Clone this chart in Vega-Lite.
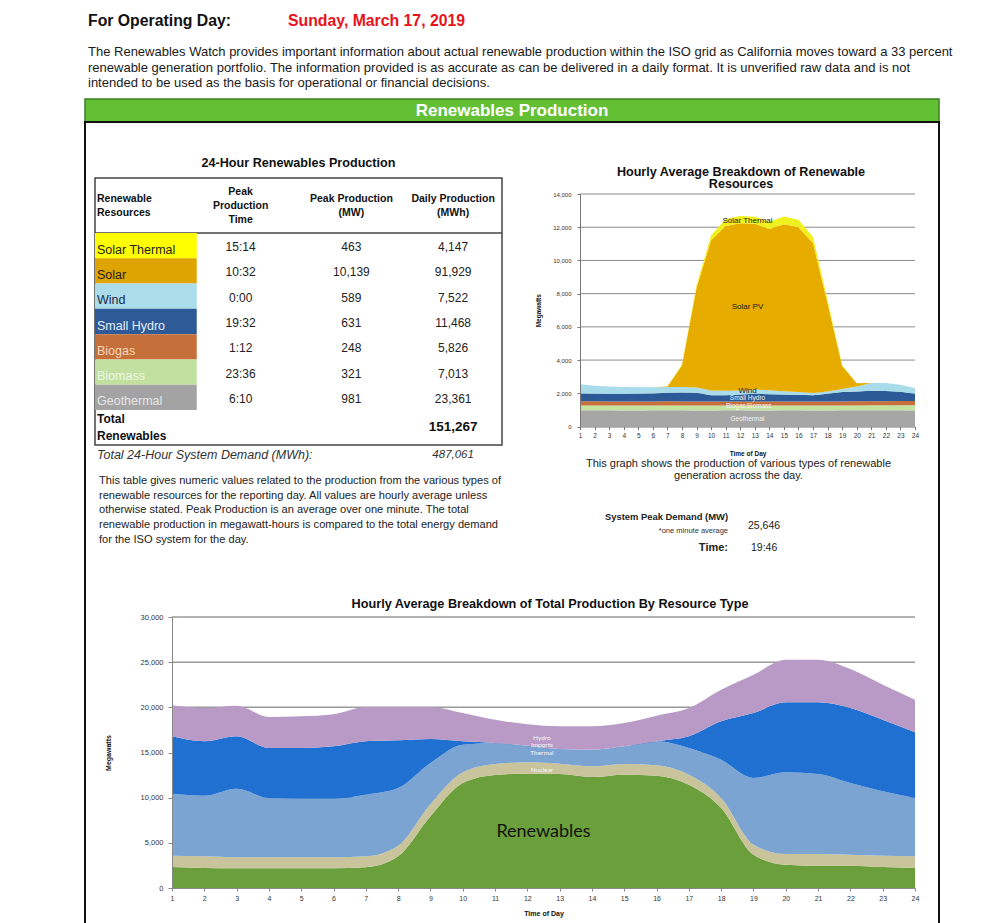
{
  "$schema": "https://vega.github.io/schema/vega-lite/v6.json",
  "width": 1000,
  "height": 923,
  "padding": 0,
  "autosize": {"type": "none"},
  "background": "white",
  "config": {"view": {"stroke": null}, "font": "Liberation Sans"},
  "resolve": {"scale": {"x": "independent", "y": "independent", "color": "independent"}},
  "layer": [
    {
      "data": {"values": [{"k": "label", "t": "For Operating Day:"}, {"k": "date", "t": "Sunday, March 17, 2019"}]},
      "mark": {"type": "text", "align": "left", "baseline": "middle", "fontSize": 15.8, "fontWeight": "bold"},
      "encoding": {
        "x": {"field": "k", "type": "nominal", "scale": {"type": "point", "domain": ["label", "date"], "range": [88, 288], "padding": 0}, "axis": null},
        "y": {"datum": 0, "type": "quantitative", "scale": {"domain": [0, 1], "range": [21, 40], "nice": false, "zero": false}, "axis": null},
        "color": {"field": "k", "type": "nominal", "scale": {"domain": ["label", "date"], "range": ["#111111", "#e8121b"]}, "legend": null},
        "text": {"field": "t"}
      }
    },
    {
      "data": {"values": [
        {"l": 0, "t": "The Renewables Watch provides important information about actual renewable production within the ISO grid as California moves toward a 33 percent"},
        {"l": 1, "t": "renewable generation portfolio. The information provided is as accurate as can be delivered in a daily format.  It is unverified raw data and is not"},
        {"l": 2, "t": "intended to be used as the basis for operational or financial decisions."}
      ]},
      "mark": {"type": "text", "align": "left", "baseline": "middle", "fontSize": 13, "color": "#1a1a1a"},
      "encoding": {
        "x": {"datum": 0, "type": "quantitative", "scale": {"domain": [0, 1], "range": [88, 952], "nice": false, "zero": false}, "axis": null},
        "y": {"field": "l", "type": "quantitative", "scale": {"domain": [0, 2], "range": [52, 83], "nice": false, "zero": false}, "axis": null},
        "text": {"field": "t"}
      }
    },
    {
      "data": {"values": [{"t": "Renewables Production"}]},
      "layer": [
        {
          "mark": {"type": "rect", "fill": "#63bf33", "stroke": "#3d7d24", "strokeWidth": 1.5},
          "encoding": {
            "x": {"datum": 0, "type": "quantitative", "scale": {"domain": [0, 1], "range": [85, 939], "nice": false, "zero": false}, "axis": null},
            "x2": {"datum": 1},
            "y": {"datum": 0, "type": "quantitative", "scale": {"domain": [0, 1], "range": [99, 122], "nice": false, "zero": false}, "axis": null},
            "y2": {"datum": 1}
          }
        },
        {
          "mark": {"type": "text", "align": "center", "baseline": "middle", "fontSize": 17, "fontWeight": "bold", "color": "white"},
          "encoding": {
            "x": {"datum": 0.5, "type": "quantitative", "axis": null},
            "y": {"datum": 0.5, "type": "quantitative", "axis": null},
            "text": {"field": "t"}
          }
        }
      ]
    },
    {
      "data": {"values": [{}]},
      "mark": {"type": "rect", "filled": false, "stroke": "#111111", "strokeWidth": 2},
      "encoding": {
        "x": {"datum": 0, "type": "quantitative", "scale": {"domain": [0, 1], "range": [85, 939], "nice": false, "zero": false}, "axis": null},
        "x2": {"datum": 1},
        "y": {"datum": 0, "type": "quantitative", "scale": {"domain": [0, 1], "range": [122, 1000], "nice": false, "zero": false}, "axis": null},
        "y2": {"datum": 1}
      }
    },
    {
      "data": {"values": [{"t": "24-Hour Renewables Production"}]},
      "mark": {"type": "text", "align": "center", "baseline": "middle", "fontSize": 12.6, "fontWeight": "bold", "color": "#111111"},
      "encoding": {
        "x": {"datum": 0.5, "type": "quantitative", "scale": {"domain": [0, 1], "range": [95, 502], "nice": false, "zero": false}, "axis": null},
        "y": {"datum": 0, "type": "quantitative", "scale": {"domain": [0, 1], "range": [163, 200], "nice": false, "zero": false}, "axis": null},
        "text": {"field": "t"}
      }
    },
    {
      "data": {"values": [{}]},
      "layer": [
        {
          "mark": {"type": "rect", "filled": false, "stroke": "#444444", "strokeWidth": 1.5},
          "encoding": {
            "x": {"datum": 0, "type": "quantitative", "scale": {"domain": [0, 1], "range": [95, 502], "nice": false, "zero": false}, "axis": null},
            "x2": {"datum": 1},
            "y": {"datum": 0, "type": "quantitative", "scale": {"domain": [0, 1], "range": [178, 445], "nice": false, "zero": false}, "axis": null},
            "y2": {"datum": 1}
          }
        },
        {
          "mark": {"type": "rule", "stroke": "#444444", "strokeWidth": 1.5},
          "encoding": {
            "x": {"datum": 0, "type": "quantitative", "axis": null},
            "x2": {"datum": 1},
            "y": {"datum": 0.206, "type": "quantitative", "axis": null}
          }
        }
      ]
    },
    {
      "layer": [
        {
          "data": {"values": [{"t": "Renewable\nResources"}]},
          "mark": {"type": "text", "align": "left", "baseline": "middle", "dx": 2, "dy": -6.75, "fontSize": 10.5, "fontWeight": "bold", "lineBreak": "\n", "lineHeight": 13.5, "color": "#111111"},
          "encoding": {
            "x": {"datum": "name", "type": "nominal", "bandPosition": 0, "scale": {"type": "band", "domain": ["name", "time", "peak", "daily"], "range": [95, 502], "paddingInner": 0, "paddingOuter": 0}, "axis": null},
            "y": {"datum": 0, "type": "quantitative", "scale": {"domain": [0, 1], "range": [206, 300], "nice": false, "zero": false}, "axis": null},
            "text": {"field": "t"}
          }
        },
        {
          "data": {"values": [{"t": "Peak\nProduction\nTime"}]},
          "mark": {"type": "text", "align": "center", "baseline": "middle", "dx": -7, "dy": -14, "fontSize": 10.5, "fontWeight": "bold", "lineBreak": "\n", "lineHeight": 14, "color": "#111111"},
          "encoding": {
            "x": {"datum": "time", "type": "nominal", "bandPosition": 0.5, "axis": null},
            "y": {"datum": 0, "type": "quantitative", "axis": null},
            "text": {"field": "t"}
          }
        },
        {
          "data": {"values": [{"t": "Peak Production\n(MW)"}]},
          "mark": {"type": "text", "align": "center", "baseline": "middle", "dx": 2, "dy": -6.75, "fontSize": 10.5, "fontWeight": "bold", "lineBreak": "\n", "lineHeight": 13.5, "color": "#111111"},
          "encoding": {
            "x": {"datum": "peak", "type": "nominal", "bandPosition": 0.5, "axis": null},
            "y": {"datum": 0, "type": "quantitative", "axis": null},
            "text": {"field": "t"}
          }
        },
        {
          "data": {"values": [{"t": "Daily Production\n(MWh)"}]},
          "mark": {"type": "text", "align": "center", "baseline": "middle", "dx": 2, "dy": -6.75, "fontSize": 10.5, "fontWeight": "bold", "lineBreak": "\n", "lineHeight": 13.5, "color": "#111111"},
          "encoding": {
            "x": {"datum": "daily", "type": "nominal", "bandPosition": 0.5, "axis": null},
            "y": {"datum": 0, "type": "quantitative", "axis": null},
            "text": {"field": "t"}
          }
        }
      ]
    },
    {
      "data": {"values": [
        {"res": "Solar Thermal", "time": "15:14", "peak": "463", "daily": "4,147"},
        {"res": "Solar", "time": "10:32", "peak": "10,139", "daily": "91,929"},
        {"res": "Wind", "time": "0:00", "peak": "589", "daily": "7,522"},
        {"res": "Small Hydro", "time": "19:32", "peak": "631", "daily": "11,468"},
        {"res": "Biogas", "time": "1:12", "peak": "248", "daily": "5,826"},
        {"res": "Biomass", "time": "23:36", "peak": "321", "daily": "7,013"},
        {"res": "Geothermal", "time": "6:10", "peak": "981", "daily": "23,361"}
      ]},
      "resolve": {"scale": {"color": "independent"}},
      "layer": [
        {
          "mark": {"type": "rect"},
          "encoding": {
            "x": {"datum": "name", "type": "nominal", "scale": {"type": "band", "domain": ["name", "time", "peak", "daily"], "range": [95, 502], "paddingInner": 0, "paddingOuter": 0}, "axis": null},
            "y": {"field": "res", "type": "nominal", "scale": {"type": "band", "domain": ["Solar Thermal", "Solar", "Wind", "Small Hydro", "Biogas", "Biomass", "Geothermal"], "range": [233, 410], "paddingInner": 0, "paddingOuter": 0}, "axis": null},
            "color": {"field": "res", "type": "nominal", "scale": {"domain": ["Solar Thermal", "Solar", "Wind", "Small Hydro", "Biogas", "Biomass", "Geothermal"], "range": ["#ffff00", "#dea400", "#aadcea", "#2e5b98", "#c5703b", "#c2e0a0", "#a3a3a3"]}, "legend": null}
          }
        },
        {
          "mark": {"type": "text", "align": "left", "baseline": "middle", "dx": 2, "dy": 4, "fontSize": 12.5},
          "encoding": {
            "x": {"datum": "name", "type": "nominal", "bandPosition": 0, "axis": null},
            "y": {"field": "res", "type": "nominal", "axis": null},
            "color": {"field": "res", "type": "nominal", "scale": {"domain": ["Solar Thermal", "Solar", "Wind", "Small Hydro", "Biogas", "Biomass", "Geothermal"], "range": ["#222222", "#222222", "#1d2d4d", "#e6ecf6", "#f8d6bc", "#eef6e4", "#e6e6e6"]}, "legend": null},
            "text": {"field": "res"}
          }
        },
        {
          "mark": {"type": "text", "align": "center", "baseline": "middle", "dx": -7, "dy": 1.5, "fontSize": 12, "color": "#222222"},
          "encoding": {
            "x": {"datum": "time", "type": "nominal", "bandPosition": 0.5, "axis": null},
            "y": {"field": "res", "type": "nominal", "axis": null},
            "text": {"field": "time"}
          }
        },
        {
          "mark": {"type": "text", "align": "center", "baseline": "middle", "dx": 2, "dy": 1.5, "fontSize": 12, "color": "#222222"},
          "encoding": {
            "x": {"datum": "peak", "type": "nominal", "bandPosition": 0.5, "axis": null},
            "y": {"field": "res", "type": "nominal", "axis": null},
            "text": {"field": "peak"}
          }
        },
        {
          "mark": {"type": "text", "align": "center", "baseline": "middle", "dx": 2, "dy": 1.5, "fontSize": 12, "color": "#222222"},
          "encoding": {
            "x": {"datum": "daily", "type": "nominal", "bandPosition": 0.5, "axis": null},
            "y": {"field": "res", "type": "nominal", "axis": null},
            "text": {"field": "daily"}
          }
        }
      ]
    },
    {
      "layer": [
        {
          "data": {"values": [{"t": "Total\nRenewables"}]},
          "mark": {"type": "text", "align": "left", "baseline": "middle", "dx": 2, "dy": -8, "fontSize": 12, "fontWeight": "bold", "lineBreak": "\n", "lineHeight": 16.5, "color": "#111111"},
          "encoding": {
            "x": {"datum": "name", "type": "nominal", "bandPosition": 0, "scale": {"type": "band", "domain": ["name", "time", "peak", "daily"], "range": [95, 502], "paddingInner": 0, "paddingOuter": 0}, "axis": null},
            "y": {"datum": "total", "type": "nominal", "scale": {"type": "point", "domain": ["total", "demand"], "range": [427, 455], "padding": 0}, "axis": null},
            "text": {"field": "t"}
          }
        },
        {
          "data": {"values": [{"t": "151,267"}]},
          "mark": {"type": "text", "align": "center", "baseline": "middle", "dx": 2, "fontSize": 13.5, "fontWeight": "bold", "color": "#111111"},
          "encoding": {
            "x": {"datum": "daily", "type": "nominal", "bandPosition": 0.5, "axis": null},
            "y": {"datum": "total", "type": "nominal", "axis": null},
            "text": {"field": "t"}
          }
        },
        {
          "data": {"values": [{"t": "Total 24-Hour System Demand (MWh):"}]},
          "mark": {"type": "text", "align": "left", "baseline": "middle", "dx": 2, "fontSize": 12.5, "fontStyle": "italic", "color": "#333333"},
          "encoding": {
            "x": {"datum": "name", "type": "nominal", "bandPosition": 0, "axis": null},
            "y": {"datum": "demand", "type": "nominal", "axis": null},
            "text": {"field": "t"}
          }
        },
        {
          "data": {"values": [{"t": "487,061"}]},
          "mark": {"type": "text", "align": "center", "baseline": "middle", "dx": 2, "fontSize": 11.5, "fontStyle": "italic", "color": "#333333"},
          "encoding": {
            "x": {"datum": "daily", "type": "nominal", "bandPosition": 0.5, "axis": null},
            "y": {"datum": "demand", "type": "nominal", "axis": null},
            "text": {"field": "t"}
          }
        }
      ]
    },
    {
      "data": {"values": [
        {"l": 0, "t": "This table gives numeric values related to the production from the various types of"},
        {"l": 1, "t": "renewable resources for the reporting day. All values are hourly average unless"},
        {"l": 2, "t": "otherwise stated. Peak Production is an average over one minute. The total"},
        {"l": 3, "t": "renewable production in megawatt-hours is compared to the total energy demand"},
        {"l": 4, "t": "for the ISO system for the day."}
      ]},
      "mark": {"type": "text", "align": "left", "baseline": "middle", "fontSize": 11.1, "color": "#222222"},
      "encoding": {
        "x": {"datum": 0, "type": "quantitative", "scale": {"domain": [0, 1], "range": [99, 505], "nice": false, "zero": false}, "axis": null},
        "y": {"field": "l", "type": "quantitative", "scale": {"domain": [0, 4], "range": [481, 539.5], "nice": false, "zero": false}, "axis": null},
        "text": {"field": "t"}
      }
    },
    {
      "data": {"values": [{"t": "Hourly Average Breakdown of Renewable\nResources"}]},
      "mark": {"type": "text", "align": "center", "baseline": "middle", "dy": -6.3, "fontSize": 12.6, "fontWeight": "bold", "lineBreak": "\n", "lineHeight": 12.6, "color": "#111111"},
      "encoding": {
        "x": {"datum": 0, "type": "quantitative", "scale": {"domain": [0, 1], "range": [741, 800], "nice": false, "zero": false}, "axis": null},
        "y": {"datum": 0, "type": "quantitative", "scale": {"domain": [0, 1], "range": [178, 200], "nice": false, "zero": false}, "axis": null},
        "text": {"field": "t"}
      }
    },
    {
      "layer": [
        {
          "data": {"values": [{"v": 2000}, {"v": 4000}, {"v": 6000}, {"v": 8000}, {"v": 10000}, {"v": 12000}, {"v": 14000}]},
          "mark": {"type": "rule", "stroke": "#8a8a8a", "strokeWidth": 1},
          "encoding": {
            "x": {"datum": 1, "type": "quantitative", "scale": {"type": "linear", "domain": [1, 24], "range": [580, 915], "nice": false, "zero": false}},
            "x2": {"datum": 24},
            "y": {"field": "v", "type": "quantitative", "scale": {"type": "linear", "domain": [0, 14000], "range": [426.5, 194], "nice": false, "zero": false}}
          }
        },
        {
          "data": {"values": [
            {"h": 1, "a_geo": 980, "b_bms": 292, "c_bgs": 246, "d_shy": 470, "e_wnd": 560, "f_spv": 0, "g_sth": 0},
            {"h": 2, "a_geo": 975, "b_bms": 292, "c_bgs": 246, "d_shy": 460, "e_wnd": 480, "f_spv": 0, "g_sth": 0},
            {"h": 3, "a_geo": 975, "b_bms": 292, "c_bgs": 245, "d_shy": 450, "e_wnd": 440, "f_spv": 0, "g_sth": 0},
            {"h": 4, "a_geo": 970, "b_bms": 292, "c_bgs": 245, "d_shy": 450, "e_wnd": 420, "f_spv": 0, "g_sth": 0},
            {"h": 5, "a_geo": 970, "b_bms": 290, "c_bgs": 245, "d_shy": 460, "e_wnd": 400, "f_spv": 0, "g_sth": 0},
            {"h": 6, "a_geo": 975, "b_bms": 290, "c_bgs": 245, "d_shy": 480, "e_wnd": 380, "f_spv": 0, "g_sth": 0},
            {"h": 7, "a_geo": 980, "b_bms": 290, "c_bgs": 245, "d_shy": 520, "e_wnd": 350, "f_spv": 30, "g_sth": 0},
            {"h": 8, "a_geo": 975, "b_bms": 290, "c_bgs": 244, "d_shy": 540, "e_wnd": 330, "f_spv": 1300, "g_sth": 50},
            {"h": 9, "a_geo": 970, "b_bms": 290, "c_bgs": 244, "d_shy": 530, "e_wnd": 320, "f_spv": 6000, "g_sth": 150},
            {"h": 10, "a_geo": 970, "b_bms": 290, "c_bgs": 244, "d_shy": 380, "e_wnd": 280, "f_spv": 9045, "g_sth": 300},
            {"h": 11, "a_geo": 975, "b_bms": 290, "c_bgs": 244, "d_shy": 380, "e_wnd": 260, "f_spv": 9930, "g_sth": 420},
            {"h": 12, "a_geo": 975, "b_bms": 290, "c_bgs": 244, "d_shy": 420, "e_wnd": 240, "f_spv": 10070, "g_sth": 440},
            {"h": 13, "a_geo": 970, "b_bms": 290, "c_bgs": 244, "d_shy": 470, "e_wnd": 260, "f_spv": 9970, "g_sth": 430},
            {"h": 14, "a_geo": 970, "b_bms": 290, "c_bgs": 244, "d_shy": 440, "e_wnd": 240, "f_spv": 9710, "g_sth": 440},
            {"h": 15, "a_geo": 975, "b_bms": 290, "c_bgs": 244, "d_shy": 420, "e_wnd": 200, "f_spv": 10050, "g_sth": 460},
            {"h": 16, "a_geo": 975, "b_bms": 290, "c_bgs": 244, "d_shy": 400, "e_wnd": 170, "f_spv": 9920, "g_sth": 450},
            {"h": 17, "a_geo": 970, "b_bms": 290, "c_bgs": 244, "d_shy": 380, "e_wnd": 140, "f_spv": 9005, "g_sth": 380},
            {"h": 18, "a_geo": 970, "b_bms": 290, "c_bgs": 244, "d_shy": 470, "e_wnd": 140, "f_spv": 5300, "g_sth": 200},
            {"h": 19, "a_geo": 975, "b_bms": 292, "c_bgs": 244, "d_shy": 560, "e_wnd": 180, "f_spv": 1390, "g_sth": 50},
            {"h": 20, "a_geo": 975, "b_bms": 295, "c_bgs": 244, "d_shy": 600, "e_wnd": 300, "f_spv": 190, "g_sth": 0},
            {"h": 21, "a_geo": 980, "b_bms": 300, "c_bgs": 244, "d_shy": 630, "e_wnd": 460, "f_spv": 0, "g_sth": 0},
            {"h": 22, "a_geo": 975, "b_bms": 305, "c_bgs": 244, "d_shy": 610, "e_wnd": 480, "f_spv": 0, "g_sth": 0},
            {"h": 23, "a_geo": 975, "b_bms": 310, "c_bgs": 244, "d_shy": 560, "e_wnd": 420, "f_spv": 0, "g_sth": 0},
            {"h": 24, "a_geo": 970, "b_bms": 320, "c_bgs": 244, "d_shy": 440, "e_wnd": 330, "f_spv": 0, "g_sth": 0}
          ]},
          "transform": [{"fold": ["a_geo", "b_bms", "c_bgs", "d_shy", "e_wnd", "f_spv", "g_sth"], "as": ["src", "mw"]}],
          "mark": {"type": "area", "interpolate": "linear"},
          "encoding": {
            "x": {"field": "h", "type": "quantitative", "axis": {"orient": "bottom", "offset": -496.5, "zindex": 1, "values": [1, 2, 3, 4, 5, 6, 7, 8, 9, 10, 11, 12, 13, 14, 15, 16, 17, 18, 19, 20, 21, 22, 23, 24], "format": "d", "grid": false, "labelFontSize": 6.5, "labelColor": "#333333", "labelPadding": 3, "labelFlush": false, "labelOverlap": false, "tickSize": 3, "tickColor": "#777777", "domainColor": "#777777", "title": "Time of Day", "titleFontSize": 6.5, "titleFontWeight": "bold", "titleColor": "#111111", "titlePadding": 11}},
            "y": {"field": "mw", "type": "quantitative", "stack": "zero", "axis": {"orient": "left", "offset": -580, "zindex": 1, "values": [0, 2000, 4000, 6000, 8000, 10000, 12000, 14000], "format": ",", "labelExpr": "format(datum.value, ',')", "grid": false, "labelFontSize": 6, "labelColor": "#333333", "labelPadding": 6, "tickSize": 3, "tickColor": "#777777", "domainColor": "#777777", "title": "Megawatts", "titleFontSize": 6.5, "titleFontWeight": "bold", "titleColor": "#111111", "titlePadding": 11}},
            "color": {"field": "src", "type": "nominal", "scale": {"domain": ["a_geo", "b_bms", "c_bgs", "d_shy", "e_wnd", "f_spv", "g_sth"], "range": ["#a6a6a6", "#c4e2a0", "#c8703a", "#2b5a97", "#a8dcea", "#e6ac00", "#f0f01e"]}, "legend": null},
            "order": {"field": "src", "sort": "ascending"}
          }
        },
        {
          "data": {"values": [
            {"h": 12.5, "v": 12380, "t": "Solar Thermal"},
            {"h": 12.5, "v": 7220, "t": "Solar PV"},
            {"h": 12.5, "v": 2120, "t": "Wind"}
          ]},
          "mark": {"type": "text", "align": "center", "baseline": "middle", "fontSize": 8, "color": "#1a1a1a"},
          "encoding": {
            "x": {"field": "h", "type": "quantitative"},
            "y": {"field": "v", "type": "quantitative"},
            "text": {"field": "t"}
          }
        },
        {
          "data": {"values": [
            {"h": 12.5, "v": 1720, "t": "Small Hydro"},
            {"h": 11.7, "v": 1250, "t": "Biogas"},
            {"h": 13.3, "v": 1250, "t": "Biomass"},
            {"h": 12.5, "v": 470, "t": "Geothermal"}
          ]},
          "mark": {"type": "text", "align": "center", "baseline": "middle", "fontSize": 6.5, "color": "#f4f4f4"},
          "encoding": {
            "x": {"field": "h", "type": "quantitative"},
            "y": {"field": "v", "type": "quantitative"},
            "text": {"field": "t"}
          }
        }
      ]
    },
    {
      "data": {"values": [{"t": "This graph shows the production of various types of renewable\ngeneration across the day."}]},
      "mark": {"type": "text", "align": "center", "baseline": "middle", "dy": -6, "fontSize": 11, "lineBreak": "\n", "lineHeight": 12, "color": "#222222"},
      "encoding": {
        "x": {"datum": 0, "type": "quantitative", "scale": {"domain": [0, 1], "range": [738.5, 800], "nice": false, "zero": false}, "axis": null},
        "y": {"datum": 0, "type": "quantitative", "scale": {"domain": [0, 1], "range": [470, 500], "nice": false, "zero": false}, "axis": null},
        "text": {"field": "t"}
      }
    },
    {
      "layer": [
        {
          "data": {"values": [{"t": "System Peak Demand (MW)"}]},
          "mark": {"type": "text", "align": "right", "baseline": "middle", "fontSize": 9.4, "fontWeight": "bold", "color": "#222222"},
          "encoding": {
            "x": {"datum": "lab", "type": "nominal", "scale": {"type": "point", "domain": ["lab", "val"], "range": [728, 748], "padding": 0}, "axis": null},
            "y": {"datum": "demand", "type": "nominal", "scale": {"type": "point", "domain": ["demand", "note", "time"], "range": [517, 548], "padding": 0}, "axis": null},
            "text": {"field": "t"}
          }
        },
        {
          "data": {"values": [{"t": "*one minute average"}]},
          "mark": {"type": "text", "align": "right", "baseline": "middle", "dy": -2, "fontSize": 7.5, "color": "#333333"},
          "encoding": {
            "x": {"datum": "lab", "type": "nominal", "axis": null},
            "y": {"datum": "note", "type": "nominal", "axis": null},
            "text": {"field": "t"}
          }
        },
        {
          "data": {"values": [{"t": "Time:"}]},
          "mark": {"type": "text", "align": "right", "baseline": "middle", "fontSize": 11, "fontWeight": "bold", "color": "#222222"},
          "encoding": {
            "x": {"datum": "lab", "type": "nominal", "axis": null},
            "y": {"datum": "time", "type": "nominal", "axis": null},
            "text": {"field": "t"}
          }
        },
        {
          "data": {"values": [{"t": "25,646"}]},
          "mark": {"type": "text", "align": "left", "baseline": "middle", "dy": 8.5, "fontSize": 10.5, "color": "#222222"},
          "encoding": {
            "x": {"datum": "val", "type": "nominal", "axis": null},
            "y": {"datum": "demand", "type": "nominal", "axis": null},
            "text": {"field": "t"}
          }
        },
        {
          "data": {"values": [{"t": "19:46"}]},
          "mark": {"type": "text", "align": "left", "baseline": "middle", "dx": 3, "fontSize": 10.5, "color": "#222222"},
          "encoding": {
            "x": {"datum": "val", "type": "nominal", "axis": null},
            "y": {"datum": "time", "type": "nominal", "axis": null},
            "text": {"field": "t"}
          }
        }
      ]
    },
    {
      "data": {"values": [{"t": "Hourly Average Breakdown of Total Production By Resource Type"}]},
      "mark": {"type": "text", "align": "center", "baseline": "middle", "fontSize": 12.7, "fontWeight": "bold", "color": "#111111"},
      "encoding": {
        "x": {"datum": 0, "type": "quantitative", "scale": {"domain": [0, 1], "range": [550, 800], "nice": false, "zero": false}, "axis": null},
        "y": {"datum": 0, "type": "quantitative", "scale": {"domain": [0, 1], "range": [604, 700], "nice": false, "zero": false}, "axis": null},
        "text": {"field": "t"}
      }
    },
    {
      "layer": [
        {
          "data": {"values": [{"v": 5000}, {"v": 10000}, {"v": 15000}, {"v": 20000}, {"v": 25000}, {"v": 30000}]},
          "mark": {"type": "rule", "stroke": "#9a9a9a", "strokeWidth": 1.5},
          "encoding": {
            "x": {"datum": 1, "type": "quantitative", "scale": {"type": "linear", "domain": [1, 24], "range": [172, 915], "nice": false, "zero": false}},
            "x2": {"datum": 24},
            "y": {"field": "v", "type": "quantitative", "scale": {"type": "linear", "domain": [0, 30000], "range": [888, 617], "nice": false, "zero": false}}
          }
        },
        {
          "data": {"values": [
            {"h": 1, "a_ren": 2325, "b_nuc": 1255, "c_thm": 6860, "d_imp": 6350, "e_hyd": 3430},
            {"h": 2, "a_ren": 2214, "b_nuc": 1291, "c_thm": 6715, "d_imp": 6020, "e_hyd": 3690},
            {"h": 3, "a_ren": 2177, "b_nuc": 1218, "c_thm": 7605, "d_imp": 5790, "e_hyd": 3390},
            {"h": 4, "a_ren": 2180, "b_nuc": 1215, "c_thm": 6565, "d_imp": 5540, "e_hyd": 3430},
            {"h": 5, "a_ren": 2180, "b_nuc": 1215, "c_thm": 6495, "d_imp": 5610, "e_hyd": 3500},
            {"h": 6, "a_ren": 2180, "b_nuc": 1215, "c_thm": 6495, "d_imp": 5790, "e_hyd": 3550},
            {"h": 7, "a_ren": 2290, "b_nuc": 1215, "c_thm": 6825, "d_imp": 5910, "e_hyd": 3800},
            {"h": 8, "a_ren": 3505, "b_nuc": 1181, "c_thm": 6384, "d_imp": 5280, "e_hyd": 3690},
            {"h": 9, "a_ren": 7930, "b_nuc": 1350, "c_thm": 4560, "d_imp": 2650, "e_hyd": 3550},
            {"h": 10, "a_ren": 11620, "b_nuc": 1180, "c_thm": 3070, "d_imp": 370, "e_hyd": 3130},
            {"h": 11, "a_ren": 12510, "b_nuc": 1220, "c_thm": 2320, "d_imp": 0, "e_hyd": 2580},
            {"h": 12, "a_ren": 12660, "b_nuc": 1250, "c_thm": 1850, "d_imp": 0, "e_hyd": 2360},
            {"h": 13, "a_ren": 12620, "b_nuc": 1140, "c_thm": 1630, "d_imp": 0, "e_hyd": 2510},
            {"h": 14, "a_ren": 12290, "b_nuc": 1180, "c_thm": 1840, "d_imp": 0, "e_hyd": 2590},
            {"h": 15, "a_ren": 12550, "b_nuc": 1180, "c_thm": 1950, "d_imp": 0, "e_hyd": 2590},
            {"h": 16, "a_ren": 12440, "b_nuc": 1140, "c_thm": 2660, "d_imp": 0, "e_hyd": 2840},
            {"h": 17, "a_ren": 11440, "b_nuc": 1110, "c_thm": 2950, "d_imp": 1290, "e_hyd": 3140},
            {"h": 18, "a_ren": 8860, "b_nuc": 1100, "c_thm": 4240, "d_imp": 4250, "e_hyd": 3510},
            {"h": 19, "a_ren": 3690, "b_nuc": 1110, "c_thm": 7380, "d_imp": 7190, "e_hyd": 4250},
            {"h": 20, "a_ren": 2580, "b_nuc": 1180, "c_thm": 9040, "d_imp": 7750, "e_hyd": 4730},
            {"h": 21, "a_ren": 2470, "b_nuc": 1290, "c_thm": 8860, "d_imp": 7930, "e_hyd": 4730},
            {"h": 22, "a_ren": 2470, "b_nuc": 1220, "c_thm": 7930, "d_imp": 8310, "e_hyd": 4310},
            {"h": 23, "a_ren": 2325, "b_nuc": 1255, "c_thm": 7120, "d_imp": 7930, "e_hyd": 3880},
            {"h": 24, "a_ren": 2214, "b_nuc": 1291, "c_thm": 6455, "d_imp": 7270, "e_hyd": 3620}
          ]},
          "transform": [{"fold": ["a_ren", "b_nuc", "c_thm", "d_imp", "e_hyd"], "as": ["src", "mw"]}],
          "mark": {"type": "area", "interpolate": "monotone"},
          "encoding": {
            "x": {"field": "h", "type": "quantitative", "axis": {"orient": "bottom", "offset": -35, "zindex": 1, "values": [1, 2, 3, 4, 5, 6, 7, 8, 9, 10, 11, 12, 13, 14, 15, 16, 17, 18, 19, 20, 21, 22, 23, 24], "format": "d", "grid": false, "labelFontSize": 7, "labelColor": "#333333", "labelPadding": 3, "labelFlush": false, "labelOverlap": false, "tickSize": 3, "tickColor": "#888888", "domainColor": "#888888", "title": "Time of Day", "titleFontSize": 7, "titleFontWeight": "bold", "titleColor": "#111111", "titlePadding": 8}},
            "y": {"field": "mw", "type": "quantitative", "stack": "zero", "axis": {"orient": "left", "offset": -172, "zindex": 1, "values": [0, 5000, 10000, 15000, 20000, 25000, 30000], "format": ",", "labelExpr": "format(datum.value, ',')", "grid": false, "labelFontSize": 7.5, "labelColor": "#333333", "labelPadding": 5, "tickSize": 4, "tickColor": "#888888", "domainColor": "#888888", "title": "Megawatts", "titleFontSize": 7, "titleFontWeight": "bold", "titleColor": "#111111", "titlePadding": 29}},
            "color": {"field": "src", "type": "nominal", "scale": {"domain": ["a_ren", "b_nuc", "c_thm", "d_imp", "e_hyd"], "range": ["#6a9f3c", "#c9c49c", "#7ba4d2", "#1f70d1", "#b99ac7"]}, "legend": null},
            "order": {"field": "src", "sort": "ascending"}
          }
        },
        {
          "data": {"values": [
            {"h": 12.45, "v": 16600, "t": "Hydro"},
            {"h": 12.45, "v": 15800, "t": "Imports"},
            {"h": 12.45, "v": 14950, "t": "Thermal"},
            {"h": 12.45, "v": 13030, "t": "Nuclear"}
          ]},
          "mark": {"type": "text", "align": "center", "baseline": "middle", "fontSize": 6.5, "font": "Lato", "color": "#f6f6f6"},
          "encoding": {
            "x": {"field": "h", "type": "quantitative"},
            "y": {"field": "v", "type": "quantitative"},
            "text": {"field": "t"}
          }
        },
        {
          "data": {"values": [{"h": 12.5, "v": 6160, "t": "Renewables"}]},
          "mark": {"type": "text", "align": "center", "baseline": "middle", "fontSize": 18, "font": "Lato", "color": "#111111"},
          "encoding": {
            "x": {"field": "h", "type": "quantitative"},
            "y": {"field": "v", "type": "quantitative"},
            "text": {"field": "t"}
          }
        }
      ]
    }
  ]
}
